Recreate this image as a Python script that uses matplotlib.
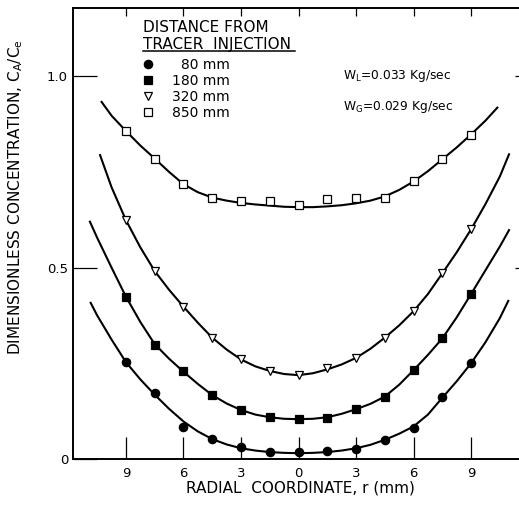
import numpy as np
import matplotlib
matplotlib.use('Agg')
import matplotlib.pyplot as plt
from matplotlib.lines import Line2D

# Measured points, radial coordinate (mm) vs C_A/C_e
r_points = [-9, -7.5, -6, -4.5, -3, -1.5, 0, 1.5, 3, 4.5, 6, 7.5, 9]
c_80 = [0.253, 0.172, 0.083, 0.051, 0.030, 0.019, 0.017, 0.021, 0.026, 0.050, 0.082, 0.161, 0.250]
c_180 = [0.424, 0.299, 0.231, 0.167, 0.128, 0.110, 0.104, 0.108, 0.130, 0.161, 0.232, 0.315, 0.431]
c_320 = [0.624, 0.491, 0.398, 0.317, 0.260, 0.230, 0.219, 0.237, 0.264, 0.317, 0.386, 0.485, 0.600]
c_850 = [0.857, 0.785, 0.718, 0.683, 0.674, 0.674, 0.663, 0.678, 0.683, 0.683, 0.727, 0.783, 0.846]

# Smooth fitted curves
r_mid = [-9, -8.25, -7.5, -6.75, -6, -5.25, -4.5, -3.75, -3, -2.25, -1.5, -0.75, 0,
         0.75, 1.5, 2.25, 3, 3.75, 4.5, 5.25, 6, 6.75, 7.5, 8.25, 9, 9.75]

fit_80_r = [-10.84, -10.5, -9.75] + r_mid + [10.5, 10.94]
fit_80 = [0.408, 0.375, 0.312, 0.253, 0.208, 0.168, 0.131, 0.098, 0.072, 0.052, 0.038, 0.028,
          0.022, 0.018, 0.016, 0.015, 0.016, 0.018, 0.022, 0.028, 0.037, 0.050, 0.066, 0.085,
          0.116, 0.160, 0.203, 0.250, 0.305, 0.368, 0.413]

fit_180_r = [-10.88, -10.5, -9.75] + r_mid + [10.5, 10.98]
fit_180 = [0.620, 0.578, 0.500, 0.424, 0.358, 0.300, 0.262, 0.228, 0.196, 0.167, 0.145, 0.128,
           0.116, 0.109, 0.105, 0.104, 0.105, 0.109, 0.118, 0.130, 0.144, 0.163, 0.194, 0.232,
           0.272, 0.315, 0.370, 0.431, 0.493, 0.555, 0.598]

fit_320_r = [-10.35, -9.75] + r_mid + [10.5, 10.98]
fit_320 = [0.794, 0.710, 0.624, 0.553, 0.491, 0.442, 0.398, 0.356, 0.317, 0.286, 0.260, 0.242,
           0.230, 0.222, 0.219, 0.224, 0.234, 0.247, 0.264, 0.288, 0.317, 0.349, 0.386, 0.431,
           0.485, 0.540, 0.600, 0.666, 0.738, 0.796]

fit_850_r = [-10.27, -9.75] + r_mid + [10.37]
fit_850 = [0.933, 0.897, 0.857, 0.819, 0.785, 0.750, 0.718, 0.697, 0.683, 0.675, 0.669, 0.665,
           0.662, 0.659, 0.658, 0.658, 0.660, 0.663, 0.668, 0.675, 0.686, 0.703, 0.725, 0.752,
           0.783, 0.814, 0.848, 0.884, 0.918]

labels = ['\u200780 mm', '180 mm', '320 mm', '850 mm']
x_ticks = [-9, -6, -3, 0, 3, 6, 9]
x_ticklabels = ['9', '6', '3', '0', '3', '6', '9']
y_ticks = [0, 0.5, 1.0]
y_ticklabels = ['0', '0.5', '1.0']

plt.rcParams['font.family'] = 'DejaVu Sans'

fig = plt.figure(figsize=(5.19, 5.08), dpi=100)
ax = fig.add_axes([0.1407, 0.0965, 0.8593, 0.8875])

# curves
for r, c in [(fit_80_r, fit_80), (fit_180_r, fit_180), (fit_320_r, fit_320), (fit_850_r, fit_850)]:
    ax.plot(r, c, color='black', lw=1.5, zorder=2)

# markers
styles = [dict(marker='o', ms=6.0, mfc='black', mec='black'),
          dict(marker='s', ms=5.4, mfc='black', mec='black'),
          dict(marker='v', ms=6.2, mfc='white', mec='black'),
          dict(marker='s', ms=5.4, mfc='white', mec='black')]
for c, st in zip([c_80, c_180, c_320, c_850], styles):
    ax.plot(r_points, c, ls='none', mew=0.9, zorder=3, **st)

ax.set_xlim(-11.76, 11.50)
ax.set_ylim(0, 1.178)

ax.set_xticks(x_ticks)
ax.set_xticklabels(x_ticklabels)
ax.set_yticks(y_ticks)
ax.set_yticklabels(y_ticklabels)
ax.tick_params(axis='x', direction='in', length=15.8, width=0.9, pad=6, labelsize=9.5)
ax.tick_params(axis='y', direction='in', length=17, width=0.9, pad=3.6, labelsize=9.5)

top = ax.secondary_xaxis('top')
top.set_xticks(x_ticks)
top.set_xticklabels([])
top.tick_params(direction='in', length=5.8, width=0.9)
top.spines['top'].set_linewidth(1.2)

right = ax.secondary_yaxis('right')
right.set_yticks([0.5, 1.0])
right.set_yticklabels([])
right.tick_params(direction='in', length=3, width=0.9)
right.spines['right'].set_visible(False)
ax.spines['right'].set_visible(False)
ax.spines['left'].set_linewidth(1.4)
ax.spines['bottom'].set_linewidth(1.4)
ax.spines['top'].set_linewidth(1.2)

ax.set_xlabel('RADIAL  COORDINATE, r (mm)', fontsize=11)
ax.xaxis.set_label_coords(0.511, -0.047)
ax.set_ylabel('DIMENSIONLESS CONCENTRATION, C$_{\\mathrm{A}}$/C$_{\\mathrm{e}}$', fontsize=11)
ax.yaxis.set_label_coords(-0.108, 0.581)

# legend block
ax.text(0.157, 0.973, 'DISTANCE FROM\nTRACER  INJECTION', transform=ax.transAxes,
        fontsize=11, va='top', ha='left', linespacing=1.1)
ax.plot([0.157, 0.498], [0.905, 0.905], transform=ax.transAxes, color='black', lw=1.1, clip_on=False)
handles = [Line2D([], [], ls='none', mew=0.9, **st) for st in styles]
ax.legend(handles, labels, loc='upper left', bbox_to_anchor=(0.157, 0.889), frameon=False,
          fontsize=10, handlelength=0.72, handletextpad=1.37, labelspacing=0.145,
          borderpad=0, borderaxespad=0)

ax.text(2.32, 1.0, 'W$_{\\mathrm{L}}$=0.033 Kg/sec', fontsize=8.8, va='center', ha='left')
ax.text(2.32, 0.919, 'W$_{\\mathrm{G}}$=0.029 Kg/sec', fontsize=8.8, va='center', ha='left')

fig.savefig('out.png', dpi=100)
